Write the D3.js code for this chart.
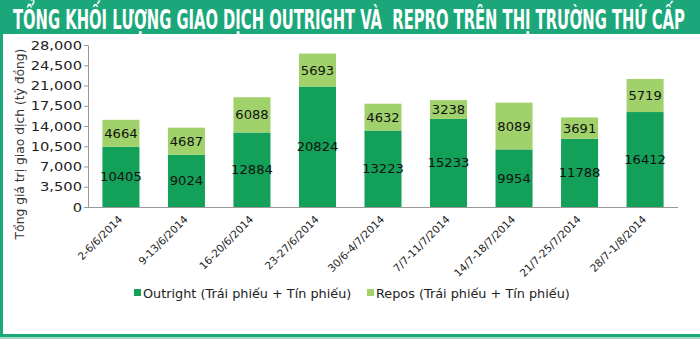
<!DOCTYPE html>
<html><head><meta charset="utf-8">
<script src="https://cdn.jsdelivr.net/npm/d3@7"></script>
<style>body{margin:0;background:#fff}svg{display:block}</style>
</head><body>
<svg id="c" width="700" height="339"></svg>
<script>
const categories = ["2-6/6/2014","9-13/6/2014","16-20/6/2014","23-27/6/2014","30/6-4/7/2014","7/7-11/7/2014","14/7-18/7/2014","21/7-25/7/2014","28/7-1/8/2014"];
const outright = [10405, 9024, 12884, 20824, 13223, 15233, 9954, 11788, 16412];
const repos = [4664, 4687, 6088, 5693, 4632, 3238, 8089, 3691, 5719];
const yTicks = [0, 3500, 7000, 10500, 14000, 17500, 21000, 24500, 28000];
const seriesNames = ["Outright (Trái phiếu + Tín phiếu)", "Repos (Trái phiếu + Tín phiếu)"];
const title = "TỔNG KHỐI LƯỢNG GIAO DỊCH OUTRIGHT VÀ  REPRO TRÊN THỊ TRƯỜNG THỨ CẤP";
const yTitle = "Tổng giá trị giao dịch (tỷ đồng)";

const colors = ["#13a058", "#a0d16a"];
const frame = "#1ba77a";
const font = "'DejaVu Sans',Verdana,sans-serif";
const svg = d3.select("#c");

// frame
svg.append("rect").attr("x",0).attr("y",0).attr("width",700).attr("height",34).attr("fill",frame);
svg.append("rect").attr("x",0).attr("y",0).attr("width",3).attr("height",337).attr("fill",frame);
svg.append("rect").attr("x",0).attr("y",334).attr("width",700).attr("height",3).attr("fill",frame);
svg.append("rect").attr("x",0).attr("y",337).attr("width",700).attr("height",2).attr("fill","#9fdcc6");

const t = svg.append("text").attr("x",0).attr("y",0).attr("fill","#fff")
  .style("white-space","pre")
  .attr("font-family","'Liberation Sans Narrow','DejaVu Sans Condensed',sans-serif")
  .attr("font-weight","bold").attr("font-size",26)
  .text(title);
const tw = t.node().getComputedTextLength();
t.attr("transform",`translate(13,29) scale(${672/tw},1)`);

const x0 = 88, x1 = 678, yTop = 45, yBot = 207;
const x = d3.scaleBand().domain(categories).range([x0, x1]).paddingInner(0.435).paddingOuter(0.22);
const y = d3.scaleLinear().domain([0, 28000]).range([yBot, yTop]);

const data = categories.map((c,i)=>({c, o:outright[i], r:repos[i]}));
const stack = d3.stack().keys(["o","r"])(data);

const g = svg.append("g");
stack.forEach((s,si)=>{
  g.selectAll(null).data(s).join("rect")
    .attr("x",d=>x(d.data.c)).attr("width",x.bandwidth())
    .attr("y",d=>y(d[1])).attr("height",d=>y(d[0])-y(d[1]))
    .attr("fill",colors[si]);
  g.selectAll(null).data(s).join("text")
    .attr("transform",d=>`translate(${x(d.data.c)+x.bandwidth()/2},${(y(d[0])+y(d[1]))/2}) scale(1.05,1)`)
    .attr("dy","0.36em").attr("text-anchor","middle")
    .attr("font-family",font).attr("font-size",12.5)
    .attr("fill","#111")
    .text(d=>d[1]-d[0]);
});

// y axis
const yAxis = d3.axisLeft(y).tickValues(yTicks).tickFormat(d3.format(",")).tickSize(4).tickSizeOuter(0);
const ya = svg.append("g").attr("transform",`translate(${x0},0)`).call(yAxis);
ya.select(".domain").attr("stroke","#999");
ya.selectAll(".tick line").attr("stroke","#999");
ya.selectAll(".tick text").attr("font-family",font).attr("font-size",13).attr("fill","#222")
  .attr("x",0).attr("transform","translate(-6,0) scale(1.13,1)");

// x axis
const xa = svg.append("g").attr("transform",`translate(0,${yBot})`)
  .call(d3.axisBottom(x).tickSize(0).tickSizeOuter(0));
xa.select(".domain").attr("stroke","#999").attr("d",`M${x0},0.5H${x1}`);
xa.selectAll(".tick text")
  .attr("font-family",font).attr("font-size",10.5).attr("fill","#222")
  .attr("text-anchor","end").attr("dy",0).attr("y",0)
  .attr("transform","translate(2,13) rotate(-45)");

// y title
svg.append("text").attr("transform","translate(24,144) rotate(-90)")
  .attr("text-anchor","middle").attr("font-family",font)
  .attr("font-size",12.3).attr("fill","#333").text(yTitle);

// legend
const legX = [134, 367];
seriesNames.forEach((n,i)=>{
  svg.append("rect").attr("x",legX[i]).attr("y",289).attr("width",7).attr("height",7).attr("fill",colors[i]);
  svg.append("text").attr("transform",`translate(${legX[i]+9},297.5) scale(1.07,1)`)
    .attr("font-family",font).attr("font-size",12).attr("fill","#222").text(n);
});
</script>
</body></html>
